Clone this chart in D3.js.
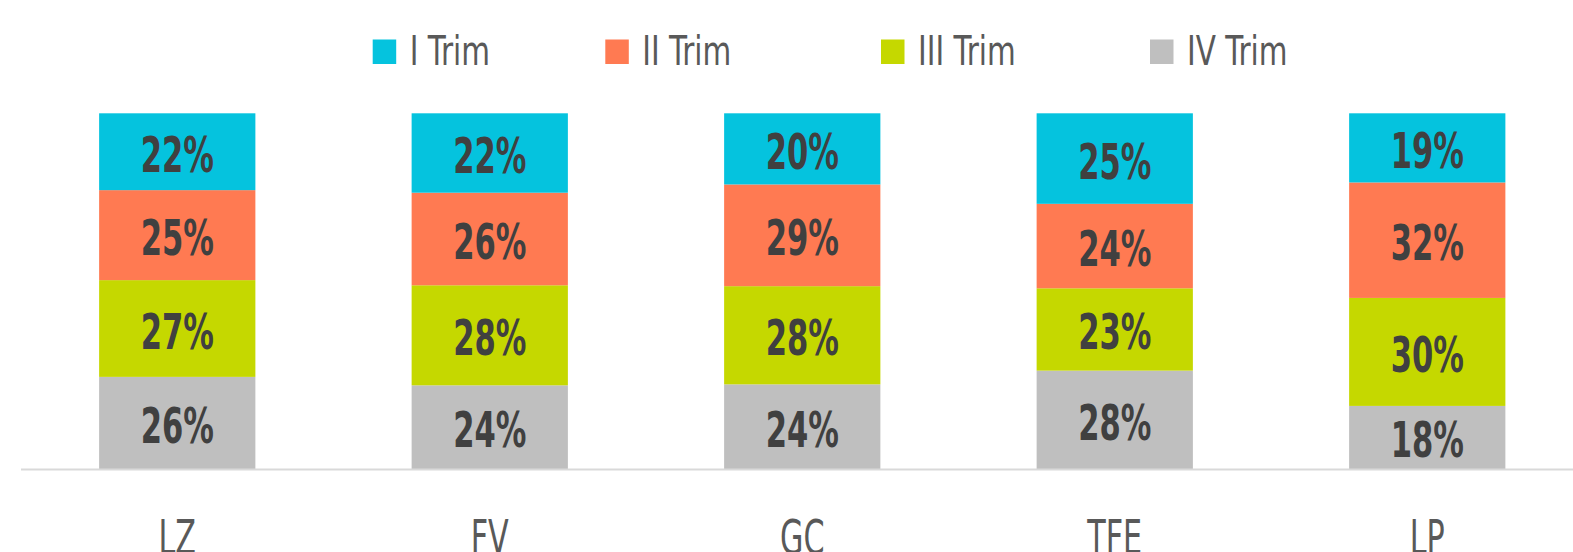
<!DOCTYPE html>
<html>
<head>
<meta charset="utf-8">
<script src="https://cdn.jsdelivr.net/npm/d3@7"></script>
<style>
  html, body { margin: 0; padding: 0; background: #fff; overflow: hidden; }
  svg { display: block; }
  text { font-family: "DejaVu Sans Condensed", "DejaVu Sans", sans-serif; font-stretch: condensed; }
</style>
</head>
<body>
<div id="chart"></div>
<script>
// regions
var categories = ['LZ', 'FV', 'GC', 'TFE', 'LP'];
var series = ['I Trim', 'II Trim', 'III Trim', 'IV Trim'];
var colors = ['#05c3de', '#ff7a52', '#c5d800', '#bfbfbf'];

// share of each quarter per region (%)
var trim1 = [21.6, 22.3, 20.0, 25.4, 19.4];
var trim2 = [25.3, 26.0, 28.6, 23.7, 32.4];
var trim3 = [27.2, 28.1, 27.6, 23.1, 30.3];
var trim4 = [25.9, 23.5, 23.8, 27.6, 17.7];

var width = 1573, height = 552;

var rows = categories.map(function(c, i){
    return { cat: c, 'I Trim': trim1[i], 'II Trim': trim2[i], 'III Trim': trim3[i], 'IV Trim': trim4[i] };
});

var svg = d3.select('#chart').append('svg')
    .attr('width', width)
    .attr('height', height);

var x = d3.scaleBand()
    .domain(categories)
    .range([21, 1583.5])
    .paddingInner(0.5)
    .paddingOuter(0.25);

var y = d3.scaleLinear()
    .domain([0, 1])
    .range([469, 113.3]);

// bottom of stack is IV Trim, top is I Trim
var stack = d3.stack()
    .keys(series.slice().reverse())
    .offset(d3.stackOffsetExpand);
var layers = stack(rows);

var color = d3.scaleOrdinal().domain(series).range(colors);

// the original font is very narrow, squeeze the fallback font horizontally
var squeezeLabel = 0.68;
var squeezeCat = 0.7;
var squeezeLegend = 0.8;

var groups = svg.selectAll('g.layer')
    .data(layers)
    .enter().append('g')
    .attr('class', 'layer')
    .attr('fill', function(d){ return color(d.key); });

groups.selectAll('rect')
    .data(function(d){ return d; })
    .enter().append('rect')
    .attr('x', function(d){ return x(d.data.cat); })
    .attr('y', function(d){ return y(d[1]); })
    .attr('width', x.bandwidth())
    .attr('height', function(d){ return y(d[0]) - y(d[1]); });

// value labels
groups.selectAll('text')
    .data(function(d){ return d.map(function(p){ return { p: p, key: d.key }; }); })
    .enter().append('text')
    .attr('transform', function(d){
        var cx = x(d.p.data.cat) + x.bandwidth() / 2;
        var cy = (y(d.p[0]) + y(d.p[1])) / 2;
        return 'translate(' + cx + ',' + cy + ') scale(' + squeezeLabel + ',1)';
    })
    .attr('dy', '0.4em')
    .attr('text-anchor', 'middle')
    .attr('font-size', '50px')
    .attr('font-weight', 'bold')
    .attr('fill', '#404040')
    .text(function(d){ return Math.round(d.p.data[d.key]) + '%'; });

// axis line
svg.append('line')
    .attr('x1', 21).attr('x2', width)
    .attr('y1', 469.5).attr('y2', 469.5)
    .attr('stroke', '#d9d9d9')
    .attr('stroke-width', 2);

// category labels
var xAxis = d3.axisBottom(x).tickSize(0).tickPadding(0);
var gx = svg.append('g')
    .attr('transform', 'translate(0,554)')
    .call(xAxis);
gx.select('.domain').remove();
gx.selectAll('text')
    .attr('y', 0)
    .attr('dy', 0)
    .attr('transform', 'scale(' + squeezeCat + ',1)')
    .attr('font-family', null)
    .style('font-size', '48px')
    .style('font-weight', 'normal')
    .attr('fill', '#595959');

// legend
var legendX = [372.7, 605.3, 881, 1150];
var legend = svg.selectAll('g.legend')
    .data(series)
    .enter().append('g')
    .attr('class', 'legend')
    .attr('transform', function(d, i){ return 'translate(' + legendX[i] + ',0)'; });

legend.append('rect')
    .attr('x', 0).attr('y', 39.5)
    .attr('width', 23.5).attr('height', 24.5)
    .attr('fill', function(d){ return color(d); });

legend.append('text')
    .attr('transform', 'translate(37,65) scale(' + squeezeLegend + ',1)')
    .attr('font-size', '41px')
    .attr('fill', '#595959')
    .text(function(d){ return d; });
</script>
</body>
</html>
